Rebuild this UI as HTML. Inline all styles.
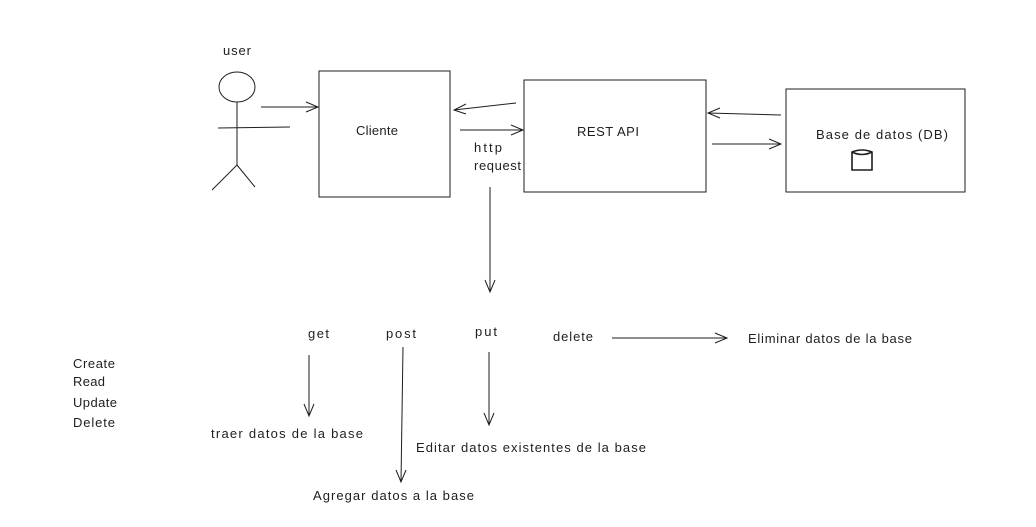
<!DOCTYPE html>
<html><head><style>
body{margin:0;background:#fff;}
svg{display:block;}
text{font-family:"Liberation Sans",sans-serif;font-size:13px;fill:#1e1e1e;}
</style></head><body>
<svg width="1036" height="527" viewBox="0 0 1036 527" xmlns="http://www.w3.org/2000/svg">
<g stroke="#1e1e1e" stroke-width="1" fill="none">
<ellipse cx="237" cy="87" rx="18" ry="15"/>
<line x1="237" y1="102" x2="237" y2="165"/>
<line x1="218" y1="128" x2="290" y2="127"/>
<line x1="237" y1="165" x2="212" y2="190"/>
<line x1="237" y1="165" x2="255" y2="187"/>
<rect x="319" y="71" width="131" height="126"/>
<rect x="524" y="80" width="182" height="112"/>
<rect x="786" y="89" width="179" height="103"/>
<line x1="261" y1="107" x2="318" y2="107"/><polyline points="306,102 318,107 306,112"/>
<line x1="516" y1="103" x2="454" y2="110"/><polyline points="466,104 454,110 466,114"/>
<line x1="460" y1="130" x2="523" y2="130"/><polyline points="511,125 523,130 511,135"/>
<line x1="781" y1="115" x2="708" y2="113"/><polyline points="720,108 708,113 720,118"/>
<line x1="712" y1="144" x2="781" y2="144"/><polyline points="769,139 781,144 769,149"/>
<line x1="490" y1="187" x2="490" y2="292"/><polyline points="485,280 490,292 495,280"/>
<line x1="612" y1="338" x2="727" y2="338"/><polyline points="715,333 727,338 715,343"/>
<line x1="309" y1="355" x2="309" y2="416"/><polyline points="304,404 309,416 314,404"/>
<line x1="403" y1="347" x2="401" y2="482"/><polyline points="396,470 401,482 406,470"/>
<line x1="489" y1="352" x2="489" y2="425"/><polyline points="484,413 489,425 494,413"/>
<path d="M852 152 Q862 148 872 152 L872 170 L852 170 Z M852 152 Q862 157 872 152" stroke-width="1.6"/>
</g>
<text x="223" y="55" textLength="28">user</text>
<text x="356" y="135" textLength="42">Cliente</text>
<text x="474" y="152" textLength="28">http</text>
<text x="474" y="170" textLength="47">request</text>
<text x="577" y="136" textLength="62">REST API</text>
<text x="816" y="139" textLength="132">Base de datos (DB)</text>
<text x="308" y="338" textLength="21">get</text>
<text x="386" y="338" textLength="30">post</text>
<text x="475" y="336" textLength="22">put</text>
<text x="553" y="341" textLength="40">delete</text>
<text x="748" y="343" textLength="164">Eliminar datos de la base</text>
<text x="73" y="368" textLength="42">Create</text>
<text x="73" y="386" textLength="32">Read</text>
<text x="73" y="407" textLength="44">Update</text>
<text x="73" y="427" textLength="42">Delete</text>
<text x="211" y="438" textLength="152">traer datos de la base</text>
<text x="416" y="452" textLength="230">Editar datos existentes de la base</text>
<text x="313" y="500" textLength="161">Agregar datos a la base</text>
</svg>
</body></html>
